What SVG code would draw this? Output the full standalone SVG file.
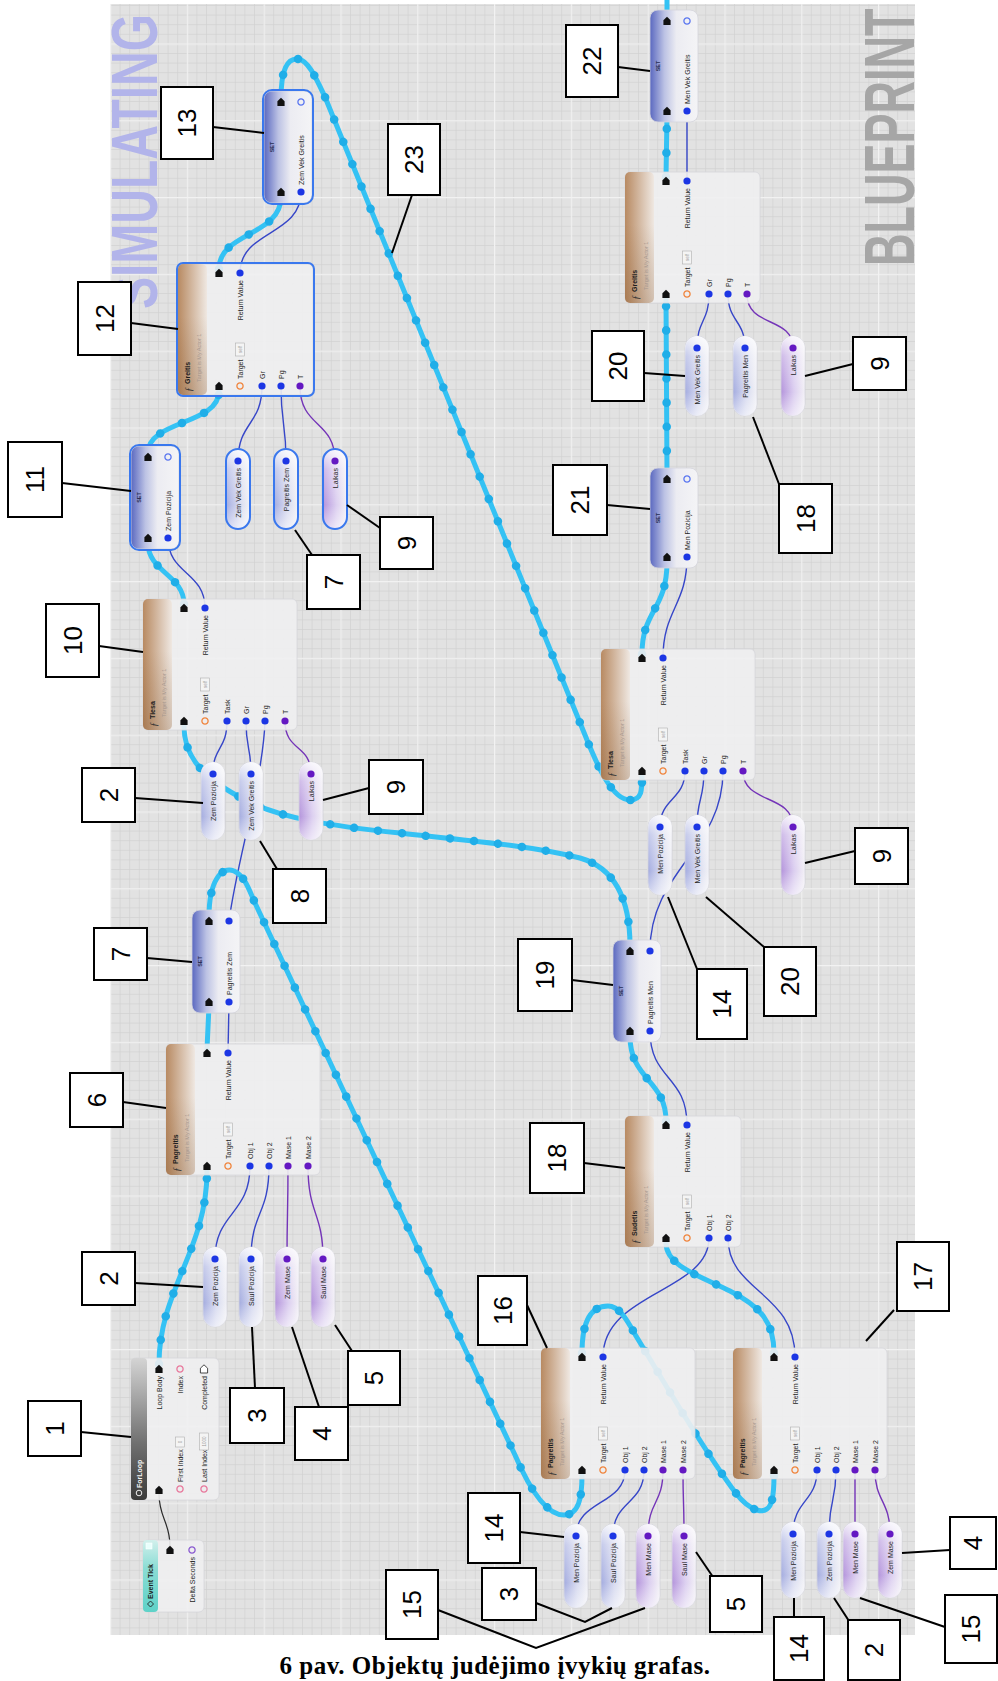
<svg xmlns="http://www.w3.org/2000/svg" width="998" height="1681" viewBox="0 0 998 1681">
<style>
.nb{fill:#efeff1;fill-opacity:.9;stroke:#d6d6da;stroke-width:.8}
.sel{fill:none;stroke:#3a78ee;stroke-width:2}
.t{font-family:"Liberation Sans",Arial,sans-serif;font-size:7px;fill:#1e1e1e}
.tb{font-family:"Liberation Sans",Arial,sans-serif;font-size:7px;font-weight:bold;fill:#1e1e1e}
.tw{font-family:"Liberation Sans",Arial,sans-serif;font-size:7px;font-weight:bold;fill:#f4f4f4}
.ts{font-family:"Liberation Sans",Arial,sans-serif;font-size:5.5px;fill:#a8988e}
.tf{font-family:"Liberation Serif",serif;font-style:italic;font-size:10px;fill:#333}
.tset{font-family:"Liberation Sans",Arial,sans-serif;font-size:5.5px;font-weight:bold;fill:#2a2f55;text-anchor:middle}
.sf{fill:#f4f4f4;stroke:#b0b0b0;stroke-width:.6}
.tsf{font-family:"Liberation Sans",Arial,sans-serif;font-size:4.5px;fill:#999;text-anchor:middle}
.pe{fill:#111}
.peo{fill:#fff;stroke:#333;stroke-width:.9}
.pb{fill:#1c36e4}
.pp{fill:#6418c2}
.pt{stroke:#f0843c}
.pbo{stroke:#5a76f0}
.pk{stroke:#e8789c}
.ppo{stroke:#8a5ad0}
.xw{fill:none;stroke:#34c2f4;stroke-width:5;stroke-linecap:round;stroke-linejoin:round}
.xd{fill:none;stroke:#20aee8;stroke-width:8.5;stroke-linecap:round;stroke-dasharray:0.1 24}
.dw{fill:none;stroke:#3646c8;stroke-width:1.4}
.dp{fill:none;stroke:#7434b8;stroke-width:1.4}
.bk{fill:none;stroke:#2a2a2a;stroke-width:1.2}
.cb{fill:#fff;stroke:#000;stroke-width:2}
.cn{font-family:"Liberation Sans",Arial,sans-serif;font-size:26px;fill:#000;text-anchor:middle}
.ll{fill:none;stroke:#000;stroke-width:2}
.pl{stroke:#d2d2da;stroke-width:.8}
.wm{font-family:"Liberation Sans",Arial,sans-serif;font-weight:bold}
</style>
<defs>
<pattern id="gm" x="110" y="43.4" width="9.6" height="9.6" patternUnits="userSpaceOnUse"><path d="M0 .35H9.6M.35 0V9.6" stroke="#cdcdcf" stroke-width=".7" fill="none"/></pattern>
<pattern id="gM" x="110" y="43.4" width="76.8" height="76.8" patternUnits="userSpaceOnUse"><path d="M0 .6H76.8M.6 0V76.8" stroke="#f2f2f2" stroke-width="1.2" fill="none"/></pattern>
<linearGradient id="gFn" x1="0" y1="0" x2="0" y2="1"><stop offset="0" stop-color="#b88a62"/><stop offset="1" stop-color="#efe8e2"/></linearGradient>
<linearGradient id="gFnU" x1="0" y1="0" x2="1" y2="0"><stop offset="0" stop-color="#7a4a20" stop-opacity=".25"/><stop offset=".6" stop-color="#7a4a20" stop-opacity="0"/></linearGradient>
<linearGradient id="gFor" x1="0" y1="0" x2="1" y2="0"><stop offset="0" stop-color="#3a3a3a"/><stop offset=".4" stop-color="#707070"/><stop offset="1" stop-color="#d4d4d4"/></linearGradient>
<linearGradient id="gEv" x1="0" y1="0" x2="1" y2="0"><stop offset="0" stop-color="#5ed2c8"/><stop offset=".6" stop-color="#8adcd4"/><stop offset="1" stop-color="#d2f0ec"/></linearGradient>
<linearGradient id="gSet" x1="0" y1="0" x2="0" y2="1"><stop offset="0" stop-color="#5a68c0"/><stop offset=".3" stop-color="#bcc2e4"/><stop offset=".55" stop-color="#ececf2"/><stop offset="1" stop-color="#f4f4f6"/></linearGradient>
<linearGradient id="gPb" x1="0" y1="0" x2="0" y2="1"><stop offset="0" stop-color="#a4ace0"/><stop offset=".55" stop-color="#d8dbf0"/><stop offset="1" stop-color="#f2f2f6"/></linearGradient>
<linearGradient id="gPp" x1="0" y1="0" x2="0" y2="1"><stop offset="0" stop-color="#b494dc"/><stop offset=".55" stop-color="#dccff0"/><stop offset="1" stop-color="#f3f1f6"/></linearGradient>
<linearGradient id="gFade" x1="0" y1="0" x2="1" y2="0"><stop offset="0" stop-color="#fff" stop-opacity=".55"/><stop offset=".3" stop-color="#fff" stop-opacity="0"/><stop offset=".75" stop-color="#fff" stop-opacity=".35"/><stop offset="1" stop-color="#fff" stop-opacity=".85"/></linearGradient>
<path id="pex" d="M-4 -3.6H.8L4.2 0L.8 3.6H-4Z"/>
<circle id="pc" r="3.6"/>
<circle id="po" r="3.1" fill="none" stroke-width="1.3"/>
</defs>

<rect width="998" height="1681" fill="#fff"/>
<g id="panel">
<rect x="110" y="4" width="805" height="1631" fill="#e2e2e2"/>
<rect x="110" y="4" width="805" height="1631" fill="url(#gm)"/>
<rect x="110" y="4" width="805" height="1631" fill="url(#gM)"/>
<text class="wm" transform="translate(157 309) rotate(-90) scale(1 1.36)" font-size="48" fill="#b2b4ea">SIMULATING</text>
<text class="wm" transform="translate(914 266) rotate(-90) scale(1 1.58)" font-size="45" fill="#a6a6a6">BLUEPRINT</text>
</g>

<g id="connectors">
<path class="bk" d="M170 1546C170 1522 159 1518 159 1494"/>
<g class="dw">
<path d="M250 1166C250 1215 215 1212 215 1259"/>
<path d="M269 1166C269 1215 251 1212 251 1259"/>
<path d="M228 1053L229 1002"/>
<path d="M229 921C237 860 263 780 265 721"/>
<path d="M227 721C227 750 213 746 213 774"/>
<path d="M246 721C246 750 251 746 251 774"/>
<path d="M205 608C205 572 168 574 168 538"/>
<path d="M262 386C262 425 238 422 238 461"/>
<path d="M281 386C281 425 286 422 286 461"/>
<path d="M240 273C240 230 301 236 301 192"/>
<path d="M709 294C709 322 697 320 697 348"/>
<path d="M728 294C728 322 745 320 745 348"/>
<path d="M687 181L687 111"/>
<path d="M663 658C663 610 687 605 687 557"/>
<path d="M685 771C685 800 660 798 660 827"/>
<path d="M704 771C704 800 697 798 697 827"/>
<path d="M723 771C723 850 650 870 650 951"/>
<path d="M687 1125C687 1075 650 1080 650 1031"/>
<path d="M709 1238C709 1292 603 1292 603 1357"/>
<path d="M728 1238C728 1292 795 1292 795 1357"/>
<path d="M625 1470C625 1505 576 1500 576 1536"/>
<path d="M644 1470C644 1505 613 1500 613 1536"/>
<path d="M817 1470C817 1502 793 1500 793 1534"/>
<path d="M836 1470C836 1502 829 1500 829 1534"/>
</g>
<g class="dp">
<path d="M288 1166C288 1215 287 1212 287 1259"/>
<path d="M308 1166C308 1215 323 1212 323 1259"/>
<path d="M285 721C285 752 311 744 311 774"/>
<path d="M300 386C300 428 335 420 335 461"/>
<path d="M747 294C747 328 793 316 793 348"/>
<path d="M743 771C743 805 793 793 793 827"/>
<path d="M663 1470C663 1505 648 1500 648 1536"/>
<path d="M683 1470C683 1505 684 1500 684 1536"/>
<path d="M855 1470C855 1502 855 1500 855 1534"/>
<path d="M875 1470C875 1502 890 1500 890 1534"/>
</g>
<g class="xw">
<path id="e1" d="M159 1364C159 1290 207 1250 207 1171"/>
<path id="e2" d="M207 1049L209 1006"/>
<path id="e3" d="M209 917C209 880 222 866 234 871C245 876 249 890 255 903L515 1455C530 1490 547 1515 564 1515C579 1515 582 1497 582 1475"/>
<path id="e4" d="M582 1353C582 1320 592 1306 608 1306C620 1306 628 1322 636 1336C660 1375 700 1445 735 1492C750 1512 768 1518 772 1500C774 1492 774 1482 774 1475"/>
<path id="e5" d="M774 1353C774 1322 760 1306 730 1291C700 1276 666 1266 666 1243"/>
<path id="e6" d="M666 1121C666 1080 630 1080 630 1036"/>
<path id="e7" d="M630 946C630 900 615 868 580 858C530 845 460 840 400 833C330 826 280 818 245 800C207 780 184 760 184 726"/>
<path id="e8" d="M184 604C184 575 148 572 148 543"/>
<path id="e9" d="M148 453C148 420 219 425 219 391"/>
<path id="e10" d="M219 269C219 232 281 236 281 197"/>
<path id="e11" d="M281 99C281 70 287 58 298 59C308 60 316 78 325 97L585 735C597 765 612 800 630 800C642 800 642 790 642 776"/>
<path id="e12" d="M642 654C642 610 667 610 667 562"/>
<path id="e13" d="M667 475L666 299"/>
<path id="e14" d="M666 177L667 116"/>
<path id="e15" d="M667 17L667 0"/>
</g>
<g class="xd">
<use href="#e1"/><use href="#e3"/><use href="#e4"/><use href="#e5"/><use href="#e6"/><use href="#e7"/><use href="#e8"/><use href="#e9"/><use href="#e10"/><use href="#e11"/><use href="#e12"/><use href="#e13"/><use href="#e14"/>
</g>
</g>

<g id="n0" transform="translate(143 1612) rotate(-90)">
<rect class="nb" width="72" height="61" rx="5"/>
<rect width="72" height="15" rx="4" fill="url(#gEv)"/>
<path d="M5 7.5L8 4.5L11 7.5L8 10.5Z" fill="none" stroke="#222" stroke-width=".9"/>
<text class="tb" x="13" y="10" font-size="6.5">Event Tick</text>
<rect x="63" y="3" width="6" height="6" fill="#e8fffc" stroke="#fff" stroke-width=".6"/>
<use href="#pex" class="pe" x="62" y="27"/>
<use href="#po" class="ppo" x="62" y="49"/>
<text class="t" x="55" y="51.5" text-anchor="end">Delta Seconds</text>
</g>

<g id="n1" transform="translate(131 1500) rotate(-90)">
<rect class="nb" width="142" height="88" rx="5"/>
<rect width="142" height="16" rx="4" fill="url(#gFor)"/>
<circle cx="7" cy="8" r="2.8" fill="none" stroke="#eee" stroke-width="1"/>
<text class="tw" x="12" y="10.5">ForLoop</text>
<use href="#pex" class="pe" x="10" y="28"/>
<use href="#pex" class="pe" x="131" y="28"/>
<text class="t" x="124" y="30.5" text-anchor="end">Loop Body</text>
<use href="#po" class="pk" x="131" y="49"/>
<text class="t" x="124" y="51.5" text-anchor="end">Index</text>
<use href="#pex" class="peo" x="131" y="73"/>
<text class="t" x="124" y="75.5" text-anchor="end">Completed</text>
<use href="#po" class="pk" x="11" y="49"/>
<text class="t" x="18" y="51.5">First Index</text>
<rect class="sf" x="53" y="44.5" width="10" height="9"/>
<text class="tsf" x="58" y="50.8">0</text>
<use href="#po" class="pk" x="11" y="73"/>
<text class="t" x="18" y="75.5">Last Index</text>
<rect class="sf" x="50" y="68.5" width="17" height="9"/>
<text class="tsf" x="58.5" y="74.8">1000</text>
</g>

<g id="n6" transform="translate(166 1175) rotate(-90)">
<rect class="nb" width="131" height="154" rx="5"/>
<rect width="131" height="29" rx="5" fill="url(#gFn)"/><rect width="131" height="29" rx="5" fill="url(#gFnU)"/>
<text class="tf" x="3" y="14">ƒ</text><text class="tb" x="11" y="12">Pagreitis</text><text class="ts" x="13" y="23">Target is My Actor 1</text>
<use href="#pex" class="pe" x="9" y="41"/><use href="#pex" class="pe" x="122" y="41"/>
<use href="#pc" class="pb" x="122" y="62"/><text class="t" x="115" y="64.5" text-anchor="end">Return Value</text>
<use href="#po" class="pt" x="9" y="62"/><text class="t" x="16" y="64.5">Target</text>
<rect class="sf" x="39" y="57.5" width="13" height="9"/><text class="tsf" x="45.5" y="63.8">self</text>
<use href="#pc" class="pb" x="9" y="84"/><text class="t" x="16" y="86.5">Obj 1</text>
<use href="#pc" class="pb" x="9" y="103"/><text class="t" x="16" y="105.5">Obj 2</text>
<use href="#pc" class="pp" x="9" y="122"/><text class="t" x="16" y="124.5">Mase 1</text>
<use href="#pc" class="pp" x="9" y="142"/><text class="t" x="16" y="144.5">Mase 2</text>
</g>
<g id="v6a" transform="translate(203 1327) rotate(-90)"><rect class="pl" width="80" height="24" rx="12" fill="url(#gPb)"/><rect width="80" height="24" rx="12" fill="url(#gFade)"/><use href="#pc" class="pb" x="68" y="12"/><text class="t" x="61" y="14.5" text-anchor="end">Zem Pozicija</text></g>
<g id="v6b" transform="translate(239 1327) rotate(-90)"><rect class="pl" width="80" height="24" rx="12" fill="url(#gPb)"/><rect width="80" height="24" rx="12" fill="url(#gFade)"/><use href="#pc" class="pb" x="68" y="12"/><text class="t" x="61" y="14.5" text-anchor="end">Saul Pozicija</text></g>
<g id="v6c" transform="translate(275 1327) rotate(-90)"><rect class="pl" width="80" height="24" rx="12" fill="url(#gPp)"/><rect width="80" height="24" rx="12" fill="url(#gFade)"/><use href="#pc" class="pp" x="68" y="12"/><text class="t" x="61" y="14.5" text-anchor="end">Zem Mase</text></g>
<g id="v6d" transform="translate(311 1327) rotate(-90)"><rect class="pl" width="80" height="24" rx="12" fill="url(#gPp)"/><rect width="80" height="24" rx="12" fill="url(#gFade)"/><use href="#pc" class="pp" x="68" y="12"/><text class="t" x="61" y="14.5" text-anchor="end">Saul Mase</text></g>

<g id="n7" transform="translate(192 1013) rotate(-90)">
<rect width="103" height="48" rx="8" fill="url(#gSet)" stroke="#d4d4dc" stroke-width=".8"/>
<text class="tset" x="51.5" y="10">SET</text>
<use href="#pex" class="pe" x="11" y="17"/><use href="#pex" class="pe" x="92" y="17"/>
<use href="#pc" class="pb" x="11" y="37"/><use href="#pc" class="pb" x="92" y="37"/>
<text class="t" x="18" y="39.5">Pagreitis Zem</text>
</g>

<g id="n10" transform="translate(143 730) rotate(-90)">
<rect class="nb" width="131" height="154" rx="5"/>
<rect width="131" height="29" rx="5" fill="url(#gFn)"/><rect width="131" height="29" rx="5" fill="url(#gFnU)"/>
<text class="tf" x="3" y="14">ƒ</text><text class="tb" x="11" y="12">Tiesa</text><text class="ts" x="13" y="23">Target is My Actor 1</text>
<use href="#pex" class="pe" x="9" y="41"/><use href="#pex" class="pe" x="122" y="41"/>
<use href="#pc" class="pb" x="122" y="62"/><text class="t" x="115" y="64.5" text-anchor="end">Return Value</text>
<use href="#po" class="pt" x="9" y="62"/><text class="t" x="16" y="64.5">Target</text>
<rect class="sf" x="39" y="57.5" width="13" height="9"/><text class="tsf" x="45.5" y="63.8">self</text>
<use href="#pc" class="pb" x="9" y="84"/><text class="t" x="16" y="86.5">Task</text>
<use href="#pc" class="pb" x="9" y="103"/><text class="t" x="16" y="105.5">Gr</text>
<use href="#pc" class="pb" x="9" y="122"/><text class="t" x="16" y="124.5">Pg</text>
<use href="#pc" class="pp" x="9" y="142"/><text class="t" x="16" y="144.5">T</text>
</g>
<g id="v10a" transform="translate(201 840) rotate(-90)"><rect class="pl" width="78" height="24" rx="12" fill="url(#gPb)"/><rect width="78" height="24" rx="12" fill="url(#gFade)"/><use href="#pc" class="pb" x="66" y="12"/><text class="t" x="59" y="14.5" text-anchor="end">Zem Pozicija</text></g>
<g id="v10b" transform="translate(239 840) rotate(-90)"><rect class="pl" width="78" height="24" rx="12" fill="url(#gPb)"/><rect width="78" height="24" rx="12" fill="url(#gFade)"/><use href="#pc" class="pb" x="66" y="12"/><text class="t" x="59" y="14.5" text-anchor="end">Zem Vek Greitis</text></g>
<g id="v10c" transform="translate(299 840) rotate(-90)"><rect class="pl" width="78" height="24" rx="12" fill="url(#gPp)"/><rect width="78" height="24" rx="12" fill="url(#gFade)"/><use href="#pc" class="pp" x="66" y="12"/><text class="t" x="59" y="14.5" text-anchor="end">Laikas</text></g>

<g id="n11" transform="translate(131 549) rotate(-90)">
<rect width="103" height="48" rx="8" fill="url(#gSet)" stroke="#d4d4dc" stroke-width=".8"/>
<text class="tset" x="51.5" y="10">SET</text>
<use href="#pex" class="pe" x="11" y="17"/><use href="#pex" class="pe" x="92" y="17"/>
<use href="#pc" class="pb" x="11" y="37"/><use href="#po" class="pbo" x="92" y="37"/>
<text class="t" x="18" y="39.5">Zem Pozicija</text>
<rect class="sel" x="-1" y="-1" width="105" height="50" rx="9"/>
</g>

<g id="n12" transform="translate(178 395) rotate(-90)">
<rect class="nb" width="131" height="135" rx="5"/>
<rect width="131" height="29" rx="5" fill="url(#gFn)"/><rect width="131" height="29" rx="5" fill="url(#gFnU)"/>
<text class="tf" x="3" y="14">ƒ</text><text class="tb" x="11" y="12">Greitis</text><text class="ts" x="13" y="23">Target is My Actor 1</text>
<use href="#pex" class="pe" x="9" y="41"/><use href="#pex" class="pe" x="122" y="41"/>
<use href="#pc" class="pb" x="122" y="62"/><text class="t" x="115" y="64.5" text-anchor="end">Return Value</text>
<use href="#po" class="pt" x="9" y="62"/><text class="t" x="16" y="64.5">Target</text>
<rect class="sf" x="39" y="57.5" width="13" height="9"/><text class="tsf" x="45.5" y="63.8">self</text>
<use href="#pc" class="pb" x="9" y="84"/><text class="t" x="16" y="86.5">Gr</text>
<use href="#pc" class="pb" x="9" y="103"/><text class="t" x="16" y="105.5">Pg</text>
<use href="#pc" class="pp" x="9" y="122"/><text class="t" x="16" y="124.5">T</text>
<rect class="sel" x="-1" y="-1" width="133" height="137" rx="6"/>
</g>
<g id="v12a" transform="translate(226 529) rotate(-90)"><rect class="pl" width="80" height="24" rx="12" fill="url(#gPb)"/><rect width="80" height="24" rx="12" fill="url(#gFade)"/><use href="#pc" class="pb" x="68" y="12"/><text class="t" x="61" y="14.5" text-anchor="end">Zem Vek Greitis</text><rect class="sel" width="80" height="24" rx="12"/></g>
<g id="v12b" transform="translate(274 529) rotate(-90)"><rect class="pl" width="80" height="24" rx="12" fill="url(#gPb)"/><rect width="80" height="24" rx="12" fill="url(#gFade)"/><use href="#pc" class="pb" x="68" y="12"/><text class="t" x="61" y="14.5" text-anchor="end">Pagreitis Zem</text><rect class="sel" width="80" height="24" rx="12"/></g>
<g id="v12c" transform="translate(323 529) rotate(-90)"><rect class="pl" width="80" height="24" rx="12" fill="url(#gPp)"/><rect width="80" height="24" rx="12" fill="url(#gFade)"/><use href="#pc" class="pp" x="68" y="12"/><text class="t" x="61" y="14.5" text-anchor="end">Laikas</text><rect class="sel" width="80" height="24" rx="12"/></g>

<g id="n13" transform="translate(264 203) rotate(-90)">
<rect width="112" height="48" rx="8" fill="url(#gSet)" stroke="#d4d4dc" stroke-width=".8"/>
<text class="tset" x="56" y="10">SET</text>
<use href="#pex" class="pe" x="11" y="17"/><use href="#pex" class="pe" x="101" y="17"/>
<use href="#pc" class="pb" x="11" y="37"/><use href="#po" class="pbo" x="101" y="37"/>
<text class="t" x="18" y="39.5">Zem Vek Greitis</text>
<rect class="sel" x="-1" y="-1" width="114" height="50" rx="9"/>
</g>

<g id="n16" transform="translate(541 1479) rotate(-90)">
<rect class="nb" width="131" height="154" rx="5"/>
<rect width="131" height="29" rx="5" fill="url(#gFn)"/><rect width="131" height="29" rx="5" fill="url(#gFnU)"/>
<text class="tf" x="3" y="14">ƒ</text><text class="tb" x="11" y="12">Pagreitis</text><text class="ts" x="13" y="23">Target is My Actor 1</text>
<use href="#pex" class="pe" x="9" y="41"/><use href="#pex" class="pe" x="122" y="41"/>
<use href="#pc" class="pb" x="122" y="62"/><text class="t" x="115" y="64.5" text-anchor="end">Return Value</text>
<use href="#po" class="pt" x="9" y="62"/><text class="t" x="16" y="64.5">Target</text>
<rect class="sf" x="39" y="57.5" width="13" height="9"/><text class="tsf" x="45.5" y="63.8">self</text>
<use href="#pc" class="pb" x="9" y="84"/><text class="t" x="16" y="86.5">Obj 1</text>
<use href="#pc" class="pb" x="9" y="103"/><text class="t" x="16" y="105.5">Obj 2</text>
<use href="#pc" class="pp" x="9" y="122"/><text class="t" x="16" y="124.5">Mase 1</text>
<use href="#pc" class="pp" x="9" y="142"/><text class="t" x="16" y="144.5">Mase 2</text>
</g>
<g id="v16a" transform="translate(564 1608) rotate(-90)"><rect class="pl" width="84" height="24" rx="12" fill="url(#gPb)"/><rect width="84" height="24" rx="12" fill="url(#gFade)"/><use href="#pc" class="pb" x="72" y="12"/><text class="t" x="65" y="14.5" text-anchor="end">Men Pozicija</text></g>
<g id="v16b" transform="translate(601 1608) rotate(-90)"><rect class="pl" width="84" height="24" rx="12" fill="url(#gPb)"/><rect width="84" height="24" rx="12" fill="url(#gFade)"/><use href="#pc" class="pb" x="72" y="12"/><text class="t" x="65" y="14.5" text-anchor="end">Saul Pozicija</text></g>
<g id="v16c" transform="translate(636 1608) rotate(-90)"><rect class="pl" width="84" height="24" rx="12" fill="url(#gPp)"/><rect width="84" height="24" rx="12" fill="url(#gFade)"/><use href="#pc" class="pp" x="72" y="12"/><text class="t" x="65" y="14.5" text-anchor="end">Men Mase</text></g>
<g id="v16d" transform="translate(672 1608) rotate(-90)"><rect class="pl" width="84" height="24" rx="12" fill="url(#gPp)"/><rect width="84" height="24" rx="12" fill="url(#gFade)"/><use href="#pc" class="pp" x="72" y="12"/><text class="t" x="65" y="14.5" text-anchor="end">Saul Mase</text></g>

<g id="n17" transform="translate(733 1479) rotate(-90)">
<rect class="nb" width="131" height="154" rx="5"/>
<rect width="131" height="29" rx="5" fill="url(#gFn)"/><rect width="131" height="29" rx="5" fill="url(#gFnU)"/>
<text class="tf" x="3" y="14">ƒ</text><text class="tb" x="11" y="12">Pagreitis</text><text class="ts" x="13" y="23">Target is My Actor 1</text>
<use href="#pex" class="pe" x="9" y="41"/><use href="#pex" class="pe" x="122" y="41"/>
<use href="#pc" class="pb" x="122" y="62"/><text class="t" x="115" y="64.5" text-anchor="end">Return Value</text>
<use href="#po" class="pt" x="9" y="62"/><text class="t" x="16" y="64.5">Target</text>
<rect class="sf" x="39" y="57.5" width="13" height="9"/><text class="tsf" x="45.5" y="63.8">self</text>
<use href="#pc" class="pb" x="9" y="84"/><text class="t" x="16" y="86.5">Obj 1</text>
<use href="#pc" class="pb" x="9" y="103"/><text class="t" x="16" y="105.5">Obj 2</text>
<use href="#pc" class="pp" x="9" y="122"/><text class="t" x="16" y="124.5">Mase 1</text>
<use href="#pc" class="pp" x="9" y="142"/><text class="t" x="16" y="144.5">Mase 2</text>
</g>
<g id="v17a" transform="translate(781 1598) rotate(-90)"><rect class="pl" width="76" height="24" rx="12" fill="url(#gPb)"/><rect width="76" height="24" rx="12" fill="url(#gFade)"/><use href="#pc" class="pb" x="64" y="12"/><text class="t" x="57" y="14.5" text-anchor="end">Men Pozicija</text></g>
<g id="v17b" transform="translate(817 1598) rotate(-90)"><rect class="pl" width="76" height="24" rx="12" fill="url(#gPb)"/><rect width="76" height="24" rx="12" fill="url(#gFade)"/><use href="#pc" class="pb" x="64" y="12"/><text class="t" x="57" y="14.5" text-anchor="end">Zem Pozicija</text></g>
<g id="v17c" transform="translate(843 1598) rotate(-90)"><rect class="pl" width="76" height="24" rx="12" fill="url(#gPp)"/><rect width="76" height="24" rx="12" fill="url(#gFade)"/><use href="#pc" class="pp" x="64" y="12"/><text class="t" x="57" y="14.5" text-anchor="end">Men Mase</text></g>
<g id="v17d" transform="translate(878 1598) rotate(-90)"><rect class="pl" width="76" height="24" rx="12" fill="url(#gPp)"/><rect width="76" height="24" rx="12" fill="url(#gFade)"/><use href="#pc" class="pp" x="64" y="12"/><text class="t" x="57" y="14.5" text-anchor="end">Zem Mase</text></g>

<g id="n18" transform="translate(625 1247) rotate(-90)">
<rect class="nb" width="131" height="116" rx="5"/>
<rect width="131" height="29" rx="5" fill="url(#gFn)"/><rect width="131" height="29" rx="5" fill="url(#gFnU)"/>
<text class="tf" x="3" y="14">ƒ</text><text class="tb" x="11" y="12">Sudetis</text><text class="ts" x="13" y="23">Target is My Actor 1</text>
<use href="#pex" class="pe" x="9" y="41"/><use href="#pex" class="pe" x="122" y="41"/>
<use href="#pc" class="pb" x="122" y="62"/><text class="t" x="115" y="64.5" text-anchor="end">Return Value</text>
<use href="#po" class="pt" x="9" y="62"/><text class="t" x="16" y="64.5">Target</text>
<rect class="sf" x="39" y="57.5" width="13" height="9"/><text class="tsf" x="45.5" y="63.8">self</text>
<use href="#pc" class="pb" x="9" y="84"/><text class="t" x="16" y="86.5">Obj 1</text>
<use href="#pc" class="pb" x="9" y="103"/><text class="t" x="16" y="105.5">Obj 2</text>
</g>

<g id="n19" transform="translate(613 1042) rotate(-90)">
<rect width="102" height="48" rx="8" fill="url(#gSet)" stroke="#d4d4dc" stroke-width=".8"/>
<text class="tset" x="51" y="10">SET</text>
<use href="#pex" class="pe" x="11" y="17"/><use href="#pex" class="pe" x="91" y="17"/>
<use href="#pc" class="pb" x="11" y="37"/><use href="#pc" class="pb" x="91" y="37"/>
<text class="t" x="18" y="39.5">Pagreitis Men</text>
</g>

<g id="n20" transform="translate(601 780) rotate(-90)">
<rect class="nb" width="131" height="154" rx="5"/>
<rect width="131" height="29" rx="5" fill="url(#gFn)"/><rect width="131" height="29" rx="5" fill="url(#gFnU)"/>
<text class="tf" x="3" y="14">ƒ</text><text class="tb" x="11" y="12">Tiesa</text><text class="ts" x="13" y="23">Target is My Actor 1</text>
<use href="#pex" class="pe" x="9" y="41"/><use href="#pex" class="pe" x="122" y="41"/>
<use href="#pc" class="pb" x="122" y="62"/><text class="t" x="115" y="64.5" text-anchor="end">Return Value</text>
<use href="#po" class="pt" x="9" y="62"/><text class="t" x="16" y="64.5">Target</text>
<rect class="sf" x="39" y="57.5" width="13" height="9"/><text class="tsf" x="45.5" y="63.8">self</text>
<use href="#pc" class="pb" x="9" y="84"/><text class="t" x="16" y="86.5">Task</text>
<use href="#pc" class="pb" x="9" y="103"/><text class="t" x="16" y="105.5">Gr</text>
<use href="#pc" class="pb" x="9" y="122"/><text class="t" x="16" y="124.5">Pg</text>
<use href="#pc" class="pp" x="9" y="142"/><text class="t" x="16" y="144.5">T</text>
</g>
<g id="v20a" transform="translate(648 895) rotate(-90)"><rect class="pl" width="80" height="24" rx="12" fill="url(#gPb)"/><rect width="80" height="24" rx="12" fill="url(#gFade)"/><use href="#pc" class="pb" x="68" y="12"/><text class="t" x="61" y="14.5" text-anchor="end">Men Pozicija</text></g>
<g id="v20b" transform="translate(685 895) rotate(-90)"><rect class="pl" width="80" height="24" rx="12" fill="url(#gPb)"/><rect width="80" height="24" rx="12" fill="url(#gFade)"/><use href="#pc" class="pb" x="68" y="12"/><text class="t" x="61" y="14.5" text-anchor="end">Men Vek Greitis</text></g>
<g id="v20c" transform="translate(781 895) rotate(-90)"><rect class="pl" width="80" height="24" rx="12" fill="url(#gPp)"/><rect width="80" height="24" rx="12" fill="url(#gFade)"/><use href="#pc" class="pp" x="68" y="12"/><text class="t" x="61" y="14.5" text-anchor="end">Laikas</text></g>

<g id="n21" transform="translate(650 568) rotate(-90)">
<rect width="100" height="48" rx="8" fill="url(#gSet)" stroke="#d4d4dc" stroke-width=".8"/>
<text class="tset" x="50" y="10">SET</text>
<use href="#pex" class="pe" x="11" y="17"/><use href="#pex" class="pe" x="89" y="17"/>
<use href="#pc" class="pb" x="11" y="37"/><use href="#po" class="pbo" x="89" y="37"/>
<text class="t" x="18" y="39.5">Men Pozicija</text>
</g>

<g id="n22g" transform="translate(625 303) rotate(-90)">
<rect class="nb" width="131" height="135" rx="5"/>
<rect width="131" height="29" rx="5" fill="url(#gFn)"/><rect width="131" height="29" rx="5" fill="url(#gFnU)"/>
<text class="tf" x="3" y="14">ƒ</text><text class="tb" x="11" y="12">Greitis</text><text class="ts" x="13" y="23">Target is My Actor 1</text>
<use href="#pex" class="pe" x="9" y="41"/><use href="#pex" class="pe" x="122" y="41"/>
<use href="#pc" class="pb" x="122" y="62"/><text class="t" x="115" y="64.5" text-anchor="end">Return Value</text>
<use href="#po" class="pt" x="9" y="62"/><text class="t" x="16" y="64.5">Target</text>
<rect class="sf" x="39" y="57.5" width="13" height="9"/><text class="tsf" x="45.5" y="63.8">self</text>
<use href="#pc" class="pb" x="9" y="84"/><text class="t" x="16" y="86.5">Gr</text>
<use href="#pc" class="pb" x="9" y="103"/><text class="t" x="16" y="105.5">Pg</text>
<use href="#pc" class="pp" x="9" y="122"/><text class="t" x="16" y="124.5">T</text>
</g>
<g id="vga" transform="translate(685 416) rotate(-90)"><rect class="pl" width="80" height="24" rx="12" fill="url(#gPb)"/><rect width="80" height="24" rx="12" fill="url(#gFade)"/><use href="#pc" class="pb" x="68" y="12"/><text class="t" x="61" y="14.5" text-anchor="end">Men Vek Greitis</text></g>
<g id="vgb" transform="translate(733 416) rotate(-90)"><rect class="pl" width="80" height="24" rx="12" fill="url(#gPb)"/><rect width="80" height="24" rx="12" fill="url(#gFade)"/><use href="#pc" class="pb" x="68" y="12"/><text class="t" x="61" y="14.5" text-anchor="end">Pagreitis Men</text></g>
<g id="vgc" transform="translate(781 416) rotate(-90)"><rect class="pl" width="80" height="24" rx="12" fill="url(#gPp)"/><rect width="80" height="24" rx="12" fill="url(#gFade)"/><use href="#pc" class="pp" x="68" y="12"/><text class="t" x="61" y="14.5" text-anchor="end">Laikas</text></g>

<g id="n22" transform="translate(650 122) rotate(-90)">
<rect width="112" height="48" rx="8" fill="url(#gSet)" stroke="#d4d4dc" stroke-width=".8"/>
<text class="tset" x="56" y="10">SET</text>
<use href="#pex" class="pe" x="11" y="17"/><use href="#pex" class="pe" x="101" y="17"/>
<use href="#pc" class="pb" x="11" y="37"/><use href="#po" class="pbo" x="101" y="37"/>
<text class="t" x="18" y="39.5">Men Vek Greitis</text>
</g>

<g id="callouts">
<g id="c1"><path class="ll" d="M81 1432L131 1437"/><rect class="cb" x="28" y="1401" width="53" height="55"/><text class="cn" transform="translate(54.5 1428.5) rotate(-90)" dy="9.3">1</text></g>
<g id="c2a"><path class="ll" d="M135 798L203 803"/><rect class="cb" x="82" y="768" width="53" height="54"/><text class="cn" transform="translate(108.5 795) rotate(-90)" dy="9.3">2</text></g>
<g id="c2b"><path class="ll" d="M135 1283L203 1287"/><rect class="cb" x="82" y="1252" width="53" height="53"/><text class="cn" transform="translate(108.5 1278.5) rotate(-90)" dy="9.3">2</text></g>
<g id="c2c"><path class="ll" d="M849 1621L834 1598"/><rect class="cb" x="848" y="1620" width="52" height="60"/><text class="cn" transform="translate(874 1650) rotate(-90)" dy="9.3">2</text></g>
<g id="c3a"><path class="ll" d="M255 1388L252 1327"/><rect class="cb" x="230" y="1388" width="54" height="55"/><text class="cn" transform="translate(257 1415.5) rotate(-90)" dy="9.3">3</text></g>
<g id="c3b"><path class="ll" d="M536 1603L585 1622L612 1608"/><rect class="cb" x="482" y="1568" width="54" height="52"/><text class="cn" transform="translate(509 1594) rotate(-90)" dy="9.3">3</text></g>
<g id="c4a"><path class="ll" d="M319 1407L292 1327"/><rect class="cb" x="295" y="1407" width="53" height="53"/><text class="cn" transform="translate(321.5 1433.5) rotate(-90)" dy="9.3">4</text></g>
<g id="c4b"><path class="ll" d="M950 1550L902 1553"/><rect class="cb" x="950" y="1517" width="46" height="52"/><text class="cn" transform="translate(973 1543) rotate(-90)" dy="9.3">4</text></g>
<g id="c5a"><path class="ll" d="M352 1351L335 1325"/><rect class="cb" x="348" y="1351" width="52" height="54"/><text class="cn" transform="translate(374 1378) rotate(-90)" dy="9.3">5</text></g>
<g id="c5b"><path class="ll" d="M713 1577L696 1552"/><rect class="cb" x="710" y="1576" width="52" height="56"/><text class="cn" transform="translate(736 1604) rotate(-90)" dy="9.3">5</text></g>
<g id="c6"><path class="ll" d="M123 1102L166 1108"/><rect class="cb" x="70" y="1073" width="53" height="54"/><text class="cn" transform="translate(96.5 1100) rotate(-90)" dy="9.3">6</text></g>
<g id="c7a"><path class="ll" d="M312 555L295 530"/><rect class="cb" x="307" y="555" width="53" height="54"/><text class="cn" transform="translate(333.5 582) rotate(-90)" dy="9.3">7</text></g>
<g id="c7b"><path class="ll" d="M147 958L192 962"/><rect class="cb" x="94" y="928" width="53" height="52"/><text class="cn" transform="translate(120.5 954) rotate(-90)" dy="9.3">7</text></g>
<g id="c8"><path class="ll" d="M277 869L260 841"/><rect class="cb" x="273" y="869" width="53" height="54"/><text class="cn" transform="translate(299.5 896) rotate(-90)" dy="9.3">8</text></g>
<g id="c9a"><path class="ll" d="M380 528L347 505"/><rect class="cb" x="380" y="517" width="53" height="52"/><text class="cn" transform="translate(406.5 543) rotate(-90)" dy="9.3">9</text></g>
<g id="c9b"><path class="ll" d="M369 788L323 800"/><rect class="cb" x="369" y="760" width="54" height="54"/><text class="cn" transform="translate(396 787) rotate(-90)" dy="9.3">9</text></g>
<g id="c9c"><path class="ll" d="M853 364L805 376"/><rect class="cb" x="853" y="337" width="53" height="53"/><text class="cn" transform="translate(879.5 363.5) rotate(-90)" dy="9.3">9</text></g>
<g id="c9d"><path class="ll" d="M855 851L805 863"/><rect class="cb" x="855" y="828" width="53" height="56"/><text class="cn" transform="translate(881.5 856) rotate(-90)" dy="9.3">9</text></g>
<g id="c10"><path class="ll" d="M99 646L143 652"/><rect class="cb" x="46" y="604" width="53" height="73"/><text class="cn" transform="translate(72.5 640.5) rotate(-90)" dy="9.3">10</text></g>
<g id="c11"><path class="ll" d="M62 483L131 491"/><rect class="cb" x="8" y="442" width="54" height="75"/><text class="cn" transform="translate(35 479.5) rotate(-90)" dy="9.3">11</text></g>
<g id="c12"><path class="ll" d="M131 323L178 329"/><rect class="cb" x="78" y="282" width="53" height="73"/><text class="cn" transform="translate(104.5 318.5) rotate(-90)" dy="9.3">12</text></g>
<g id="c13"><path class="ll" d="M213 127L264 133"/><rect class="cb" x="161" y="87" width="52" height="72"/><text class="cn" transform="translate(187 123) rotate(-90)" dy="9.3">13</text></g>
<g id="c14a"><path class="ll" d="M520 1532L564 1537"/><rect class="cb" x="468" y="1493" width="52" height="70"/><text class="cn" transform="translate(494 1528) rotate(-90)" dy="9.3">14</text></g>
<g id="c14b"><path class="ll" d="M794 1617L794 1598"/><rect class="cb" x="774" y="1617" width="50" height="63"/><text class="cn" transform="translate(799 1648.5) rotate(-90)" dy="9.3">14</text></g>
<g id="c14c"><path class="ll" d="M697 969L668 897"/><rect class="cb" x="697" y="969" width="50" height="70"/><text class="cn" transform="translate(722 1004) rotate(-90)" dy="9.3">14</text></g>
<g id="c15a"><path class="ll" d="M438 1610L536 1648L645 1608"/><rect class="cb" x="386" y="1570" width="52" height="69"/><text class="cn" transform="translate(412 1604.5) rotate(-90)" dy="9.3">15</text></g>
<g id="c15b"><path class="ll" d="M945 1627L860 1598"/><rect class="cb" x="945" y="1595" width="52" height="68"/><text class="cn" transform="translate(971 1629) rotate(-90)" dy="9.3">15</text></g>
<g id="c16"><path class="ll" d="M527 1305L547 1348"/><rect class="cb" x="478" y="1276" width="49" height="69"/><text class="cn" transform="translate(502.5 1310.5) rotate(-90)" dy="9.3">16</text></g>
<g id="c17"><path class="ll" d="M894 1310L866 1341"/><rect class="cb" x="897" y="1242" width="52" height="69"/><text class="cn" transform="translate(923 1276.5) rotate(-90)" dy="9.3">17</text></g>
<g id="c18a"><path class="ll" d="M584 1163L625 1168"/><rect class="cb" x="530" y="1123" width="54" height="70"/><text class="cn" transform="translate(557 1158) rotate(-90)" dy="9.3">18</text></g>
<g id="c18b"><path class="ll" d="M779 484L753 417"/><rect class="cb" x="779" y="484" width="53" height="69"/><text class="cn" transform="translate(805.5 518.5) rotate(-90)" dy="9.3">18</text></g>
<g id="c19"><path class="ll" d="M572 980L613 985"/><rect class="cb" x="518" y="939" width="54" height="72"/><text class="cn" transform="translate(545 975) rotate(-90)" dy="9.3">19</text></g>
<g id="c20a"><path class="ll" d="M644 373L685 376"/><rect class="cb" x="592" y="331" width="52" height="70"/><text class="cn" transform="translate(618 366) rotate(-90)" dy="9.3">20</text></g>
<g id="c20b"><path class="ll" d="M764 947L706 897"/><rect class="cb" x="764" y="947" width="52" height="69"/><text class="cn" transform="translate(790 981.5) rotate(-90)" dy="9.3">20</text></g>
<g id="c21"><path class="ll" d="M607 505L650 509"/><rect class="cb" x="553" y="465" width="54" height="70"/><text class="cn" transform="translate(580 500) rotate(-90)" dy="9.3">21</text></g>
<g id="c22"><path class="ll" d="M618 67L650 71"/><rect class="cb" x="566" y="25" width="52" height="72"/><text class="cn" transform="translate(592 61) rotate(-90)" dy="9.3">22</text></g>
<g id="c23"><path class="ll" d="M412 195L392 253"/><rect class="cb" x="388" y="124" width="52" height="71"/><text class="cn" transform="translate(414 159.5) rotate(-90)" dy="9.3">23</text></g>
</g>

<text x="495" y="1674" text-anchor="middle" font-family="'Liberation Serif','Times New Roman',serif" font-weight="bold" font-size="25" letter-spacing="0.5" fill="#000">6 pav. Objektų judėjimo įvykių grafas.</text>
</svg>
